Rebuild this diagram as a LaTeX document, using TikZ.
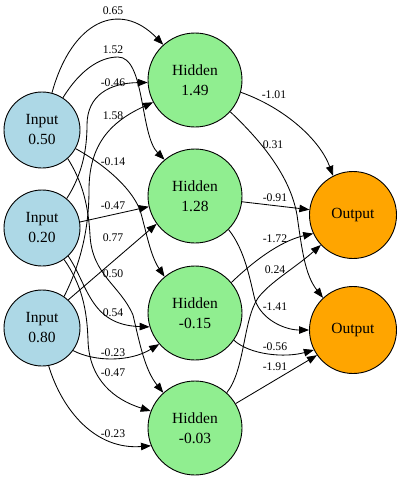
\documentclass[tikz,border=0pt]{standalone}
\usepackage{fontspec}
\setmainfont{Liberation Serif}
\usetikzlibrary{arrows.meta}
\definecolor{inblue}{HTML}{ADD8E6}
\definecolor{hidgreen}{HTML}{90EE90}
\definecolor{outorange}{HTML}{FFA500}
\begin{document}
\begin{tikzpicture}[x=1pt,y=-1pt,
  neuron/.style={circle,draw=black,line width=0.9pt,inner sep=0pt,align=center,font=\fontsize{15.5}{20}\selectfont},
  inp/.style={neuron,fill=inblue,minimum size=76pt},
  hid/.style={neuron,fill=hidgreen,minimum size=94pt},
  outn/.style={neuron,fill=outorange,minimum size=87pt},
  wire/.style={line width=0.85pt,-{Triangle[length=10pt,width=7.5pt]}},
  lbl/.style={inner sep=0pt,font=\fontsize{11.7}{12}\selectfont}]
\fill[white] (0,0) rectangle (402,480);
\useasboundingbox (0,0) rectangle (402,480);

% nodes
\node[inp] (I1) at (42,130) {Input\\0.50};
\node[inp] (I2) at (42,228) {Input\\0.20};
\node[inp] (I3) at (42,328) {Input\\0.80};
\node[hid] (H1) at (195,80) {Hidden\\1.49};
\node[hid] (H2) at (195,196) {Hidden\\1.28};
\node[hid] (H3) at (195,313) {Hidden\\-0.15};
\node[hid] (H4) at (195,428) {Hidden\\-0.03};
\node[outn] (O1) at (353,215) {Output};
\node[outn] (O2) at (353,330) {Output};

% input -> hidden
\draw[wire] (I1.75) .. controls (72,20) and (120,0) .. (H1.132);
\draw[wire] (I1.57) .. controls (80,70) and (100,57) .. (118,57) .. controls (145,57) and (140,135) .. (H2.130);
\draw[wire] (I1.-29) .. controls (100,162) and (130,185) .. (140,210) .. controls (146,230) and (150,255) .. (H3.130);
\draw[wire] (I1.-48) .. controls (80,178) and (88,200) .. (90,235) .. controls (92,275) and (120,285) .. (133,315) .. controls (140,345) and (145,370) .. (H4.132);

\draw[wire] (I2.50) .. controls (82,175) and (87,150) .. (87,125) .. controls (87,95) and (110,83) .. (H1.183);
\draw[wire] (I2.9) -- (H2.193);
\draw[wire] (I2.-47) .. controls (88,285) and (90,325) .. (H3.197);
\draw[wire] (I2.-55) .. controls (82,285) and (87,310) .. (88,340) .. controls (89,380) and (115,400) .. (H4.159);

\draw[wire] (I3.55) .. controls (80,265) and (89,230) .. (89,190) .. controls (89,145) and (110,122) .. (H1.208);
\draw[wire] (I3.47) -- (H2.216);
\draw[wire] (I3.-36) .. controls (95,362) and (130,362) .. (H3.221);
\draw[wire] (I3.-80) .. controls (62,410) and (95,450) .. (H4.202);

% hidden -> output
\draw[wire] (H1.-15) .. controls (285,108) and (320,140) .. (O1.117);
\draw[wire] (H1.-42) .. controls (260,140) and (290,175) .. (297,215) .. controls (302,250) and (305,275) .. (O2.133);
\draw[wire] (H2.-7) -- (O1.173);
\draw[wire] (H2.-45) .. controls (245,250) and (250,280) .. (255,300) .. controls (262,320) and (285,330) .. (O2.180);
\draw[wire] (H3.40) .. controls (260,255) and (285,240) .. (O1.205);
\draw[wire] (H3.-35) .. controls (250,355) and (285,358) .. (O2.207);
\draw[wire] (H4.48) .. controls (245,370) and (243,320) .. (258,298) .. controls (270,282) and (295,268) .. (O1.223);
\draw[wire] (H4.31) -- (O2.215);

% labels input -> hidden
\node[lbl] (w1) at (113,11) {0.65};
\node[lbl] (w2) at (113,50) {1.52};
\node[lbl] (w3) at (113,83) {-0.46};
\node[lbl] (w4) at (113,116) {1.58};
\node[lbl] (w5) at (113,162) {-0.14};
\node[lbl] (w6) at (113,206) {-0.47};
\node[lbl] (w7) at (113,238) {0.77};
\node[lbl] (w8) at (113,274) {0.50};
\node[lbl] (w9) at (113,313) {0.54};
\node[lbl] (w10) at (113,353) {-0.23};
\node[lbl] (w11) at (113,373) {-0.47};
\node[lbl] (w12) at (113,434) {-0.23};
% labels hidden -> output
\node[lbl] (v1) at (274,95) {-1.01};
\node[lbl] (v2) at (273,145) {0.31};
\node[lbl] (v3) at (275,198) {-0.91};
\node[lbl] (v4) at (275,239) {-1.72};
\node[lbl] (v5) at (275,270) {0.24};
\node[lbl] (v6) at (275,307) {-1.41};
\node[lbl] (v7) at (275,347) {-0.56};
\node[lbl] (v8) at (275,367) {-1.91};
\end{tikzpicture}
\end{document}
